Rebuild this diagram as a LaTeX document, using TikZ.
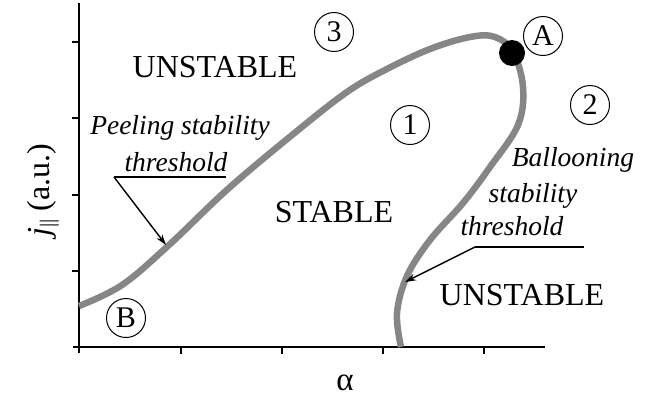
\documentclass[tikz,border=0pt]{standalone}
\usepackage{fontspec}
\setmainfont{Liberation Serif}
\usetikzlibrary{arrows.meta}
\tikzset{
  axisline/.style={line width=1.8pt,black},
  tick/.style={line width=1.5pt,black},
  curve/.style={line width=6.5pt,color=gray!95!white},
  regionlbl/.style={font=\fontsize{32}{32}\selectfont,inner sep=0pt},
  notelbl/.style={font=\fontsize{27.5}{27.5}\selectfont\itshape,inner sep=0pt},
  circnum/.style={draw,circle,line width=1pt,minimum size=39pt,inner sep=0pt,font=\fontsize{30}{30}\selectfont},
  pointer/.style={line width=1.4pt,-{Stealth[length=11pt,width=7pt]}},
  uline/.style={line width=1.4pt}
}
\begin{document}
\begin{tikzpicture}[x=1pt,y=-1pt]
\useasboundingbox (0,0) rectangle (650,400);
% axes
\coordinate (ytop) at (79,3);
\coordinate (ybot) at (79,353);
\coordinate (xl) at (73,347);
\coordinate (xr) at (545,347);
\draw[axisline] (ytop) -- (ybot);
\draw[axisline] (xl) -- (xr);
\foreach \yy in {42,118,195,271}{\draw[tick] (72,\yy) -- (79,\yy);}
\foreach \xx in {181,282,383,484}{\draw[tick] (\xx,347) -- (\xx,354);}
% axis labels
\node[font=\fontsize{33}{33}\selectfont] (alab) at (345,383) {α};
\node[rotate=90,font=\fontsize{32}{32}\selectfont] (jlab) at (43,190) {\textit{j}\raisebox{-0.35ex}{\fontsize{21}{21}\selectfont ||} (a.u.)};
% stability curve
\draw[curve] plot[smooth,tension=0.6] coordinates {(79,306) (122,285) (169,245) (229,188) (297,131) (347,92) (385,70) (430,49) (470,37) (495,37) (513,52) (523,87) (518,125) (490,167) (463,203) (430,240) (407,276) (397,313) (401,347)};
\node[circle,fill=black,minimum size=26pt,inner sep=0pt] (Adot) at (512,53) {};
% region labels
\node[regionlbl] (unst1) at (215,67) {UNSTABLE};
\node[regionlbl] (stab) at (334,212) {STABLE};
\node[regionlbl] (unst2) at (522,295) {UNSTABLE};
% circled markers
\node[circnum] (c3) at (334,32) {3};
\node[circnum] (cA) at (543,36) {A};
\node[circnum] (c2) at (590,105) {2};
\node[circnum] (c1) at (410,125) {1};
\node[circnum] (cB) at (126,318) {B};
% peeling annotation
\node[notelbl] (peel1) at (180,128) {Peeling stability};
\node[notelbl] (peel2) at (176,162) {threshold};
\coordinate (pu1) at (114,177);
\coordinate (pu2) at (226,177);
\coordinate (ptip) at (166,245);
\draw[uline] (pu1) -- (pu2);
\draw[pointer] (pu1) -- (ptip);
% ballooning annotation
\node[notelbl] (ball1) at (573,160) {Ballooning};
\node[notelbl] (ball2) at (533,196) {stability};
\node[notelbl] (ball3) at (512,226) {threshold};
\coordinate (bu1) at (475,247);
\coordinate (bu2) at (584,247);
\coordinate (btip) at (405,282);
\draw[uline] (bu1) -- (bu2);
\draw[pointer] (bu1) -- (btip);
\end{tikzpicture}
\end{document}
